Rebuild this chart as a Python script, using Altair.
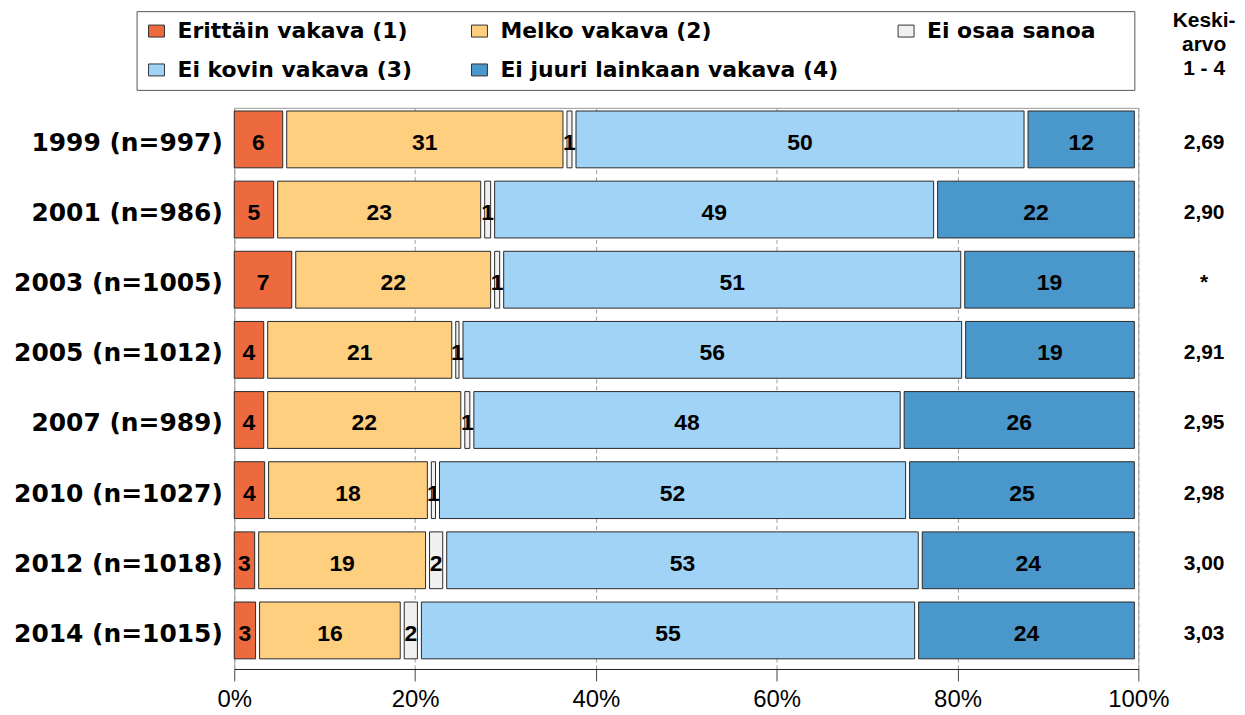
import altair as alt
import pandas as pd

years = ["1999 (n=997)", "2001 (n=986)", "2003 (n=1005)", "2005 (n=1012)",
         "2007 (n=989)", "2010 (n=1027)", "2012 (n=1018)", "2014 (n=1015)"]
categories = ["Erittäin vakava (1)", "Melko vakava (2)", "Ei osaa sanoa",
              "Ei kovin vakava (3)", "Ei juuri lainkaan vakava (4)"]
colors = ["#EC6A3E", "#FFCF80", "#F0F0F0", "#A0D3F6", "#4A97CB"]

erittain = [5.8, 4.8, 6.8, 3.7, 3.7, 3.8, 2.7, 2.8]
melko = [31.0, 22.9, 22.0, 20.8, 21.8, 18.0, 18.9, 16.0]
eos = [1.0, 1.1, 1.0, 0.8, 1.0, 0.9, 1.9, 1.9]
ei_kovin = [50.0, 49.0, 51.0, 55.6, 47.6, 52.0, 52.6, 55.0]
ei_juuri = [12.2, 22.2, 19.2, 19.1, 25.9, 25.3, 23.9, 24.3]
means = ["2,69", "2,90", "*", "2,91", "2,95", "2,98", "3,00", "3,03"]
mean_header = ["Keski-", "arvo", "1 - 4"]
x_ticks = [0, 20, 40, 60, 80, 100]

series = [erittain, melko, eos, ei_kovin, ei_juuri]
rows = []
for ci, (cat, vals) in enumerate(zip(categories, series)):
    for yi, yr in enumerate(years):
        rows.append({"year": yr, "category": cat, "order": ci, "value": vals[yi]})
df = pd.DataFrame(rows)
mdf = pd.DataFrame({"year": years, "mean": means})

ARIAL = "Liberation Sans, Arial, Helvetica, sans-serif"
xscale = alt.Scale(domain=[0, 100], nice=False, zero=True)
ysort = years

base = alt.Chart(df).transform_stack(
    stack="value", as_=["start", "end"], groupby=["year"],
    sort=[alt.SortField("order", order="ascending")]
).transform_calculate(
    mid="(datum.start + datum.end) / 2",
    label="format(datum.value, '.0f')"
)

yenc = alt.Y("year:N", sort=ysort, title=None,
             axis=alt.Axis(labelFont="DejaVu Sans", labelFontWeight="bold",
                           labelFontSize=25, labelColor="black", labelPadding=12,
                           ticks=False, domain=False, labelLimit=400))

legend = alt.Legend(
    title=" ", titleOrient="right", titlePadding=30, titleFontSize=10,
    orient="none", legendX=-98, legendY=-97, columns=3,
    direction="horizontal",
    columnPadding=56, rowPadding=17,
    symbolType="M-1,-0.75H1V0.75H-1Z", symbolSize=256,
    symbolStrokeColor="#333333", symbolStrokeWidth=1, symbolOpacity=1,
    labelFont="DejaVu Sans", labelFontWeight="bold", labelFontSize=22,
    labelColor="black", labelOffset=10, labelLimit=600,
    strokeColor="#555555", fillColor="white", padding=9,
)

bars = base.mark_bar(size=57, yOffset=-3.5, x2Offset=-4, stroke="#2a2a2a",
                     strokeWidth=1).encode(
    y=yenc,
    x=alt.X("start:Q", scale=xscale, title=None,
            axis=alt.Axis(values=x_ticks, labelExpr="datum.value + '%'",
                          labelFont=ARIAL, labelFontSize=24, labelFlush=False,
                          labelColor="black", labelPadding=7, tickSize=12,
                          tickColor="#444444", domainColor="#222222",
                          grid=True, gridColor="#a0a0a0", gridDash=[4, 3],
                          gridWidth=1)),
    x2="end:Q",
    color=alt.Color("category:N", scale=alt.Scale(domain=categories, range=colors),
                    legend=legend),
)

texts = base.mark_text(font=ARIAL, fontWeight="bold", fontSize=23,
                       color="black", dx=-2, baseline="middle").encode(
    y=alt.Y("year:N", sort=ysort),
    x=alt.X("mid:Q", scale=xscale),
    text="label:N",
)

left = alt.layer(bars, texts).properties(width=907, height=563)

right = alt.Chart(mdf).mark_text(font=ARIAL, fontWeight="bold",
                                 fontSize=21, color="black", baseline="middle").encode(
    y=alt.Y("year:N", sort=ysort, axis=None),
    text="mean:N",
).properties(
    width=50, height=563,
    title=alt.TitleParams(mean_header, font=ARIAL, fontWeight="bold",
                          fontSize=21, lineHeight=24, anchor="middle", offset=29,
                          color="black"),
    view=alt.ViewBackground(stroke="transparent"),
)

chart = alt.hconcat(left, right, spacing=41).properties(
    bounds="flush",
    padding={"left": 5, "top": 0, "right": 0, "bottom": 0},
).configure_view(stroke="#999999")

chart.save("out.html", embed_options={"renderer": "svg", "actions": False})
